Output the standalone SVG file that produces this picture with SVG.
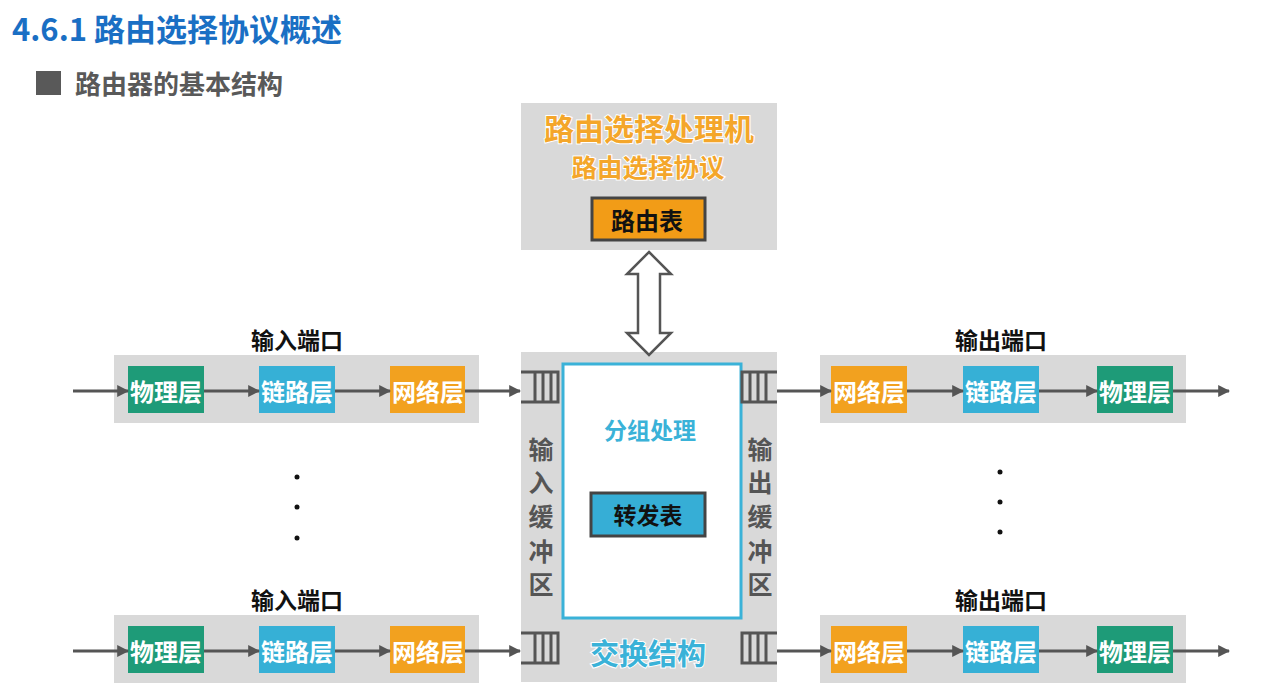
<svg xmlns="http://www.w3.org/2000/svg" width="1271" height="692" viewBox="0 0 1271 692">
<defs>
<style>
text{font-family:"Noto Sans CJK SC","Noto Sans",sans-serif;font-weight:700}
.panel{fill:#d9d9d9}
.phy{fill:#1e9b78}
.lnk{fill:#36b0d6}
.net{fill:#f2a11f}
.lt{fill:#fff;font-size:24px;text-anchor:middle;dominant-baseline:central}
.port{fill:#111;font-size:23px;text-anchor:middle;dominant-baseline:central}
.conn{stroke:#555;stroke-width:3;fill:none;marker-end:url(#ah)}
.buf{stroke:#555;stroke-width:3;fill:none}
.vt{fill:#555;font-size:25px;text-anchor:middle;dominant-baseline:central}
.dot{fill:#111}
.glowo{fill:#f4a62a;stroke:#fff;stroke-width:2;paint-order:stroke;text-anchor:middle}
.glowb{fill:#3ab2d8;stroke:#fff;stroke-width:2;paint-order:stroke;text-anchor:middle}
</style>
<marker id="ah" viewBox="0 0 10 10" refX="9" refY="5" markerWidth="4" markerHeight="4" orient="auto" markerUnits="strokeWidth">
<path d="M0,0 L10,5 L0,10 z" fill="#555"/>
</marker>
</defs>
<rect width="1271" height="692" fill="#fff"/>

<g id="title">
<text x="12" y="41" font-size="31" fill="#1a6fc4">4.6.1 路由选择协议概述</text>
<rect x="36" y="71" width="25" height="24" fill="#595959"/>
<text x="75" y="94" font-size="26" fill="#595959">路由器的基本结构</text>
</g>

<g id="routing-processor">
<rect class="panel" x="521" y="103" width="256" height="147"/>
<text class="glowo" x="649" y="140" font-size="30">路由选择处理机</text>
<text class="glowo" x="648" y="177" font-size="25.5">路由选择协议</text>
<rect x="592" y="198" width="113" height="42" fill="#f29c17" stroke="#444" stroke-width="3"/>
<text x="647" y="219" font-size="24" fill="#111" text-anchor="middle" dominant-baseline="central">路由表</text>
</g>

<g id="switch-fabric">
<rect class="panel" x="521" y="352" width="256" height="330"/>
<rect x="563" y="364" width="178" height="254" fill="#fff" stroke="#3ab2d8" stroke-width="3"/>
<text class="glowb" x="650" y="439" font-size="23">分组处理</text>
<rect x="591" y="493" width="114" height="43" fill="#36aed6" stroke="#444" stroke-width="3"/>
<text x="648" y="514" font-size="23" fill="#111" text-anchor="middle" dominant-baseline="central">转发表</text>
<text class="glowb" x="648" y="665" font-size="29">交换结构</text>
<text class="vt" x="541" y="448">输</text>
<text class="vt" x="541" y="481">入</text>
<text class="vt" x="541" y="515">缓</text>
<text class="vt" x="541" y="550">冲</text>
<text class="vt" x="541" y="583">区</text>
<text class="vt" x="760" y="448">输</text>
<text class="vt" x="760" y="481">出</text>
<text class="vt" x="760" y="515">缓</text>
<text class="vt" x="760" y="550">冲</text>
<text class="vt" x="760" y="583">区</text>
<path class="buf" d="M521,372 H558 V402 H521 M535,372 V402 M543,372 V402 M551,372 V402"/>
<path class="buf" d="M521,633 H558 V663 H521 M535,633 V663 M543,633 V663 M551,633 V663"/>
<path class="buf" d="M777,372 H742 V402 H777 M750,372 V402 M758,372 V402 M766,372 V402"/>
<path class="buf" d="M777,633 H742 V663 H777 M750,633 V663 M758,633 V663 M766,633 V663"/>
</g>

<g id="input-port-1">
<text class="port" x="297" y="339">输入端口</text>
<rect class="panel" x="114" y="355" width="365" height="68"/>
<rect class="phy" x="128" y="366" width="76" height="47"/>
<text class="lt" x="166" y="390">物理层</text>
<rect class="lnk" x="259" y="366" width="76" height="47"/>
<text class="lt" x="297" y="390">链路层</text>
<rect class="net" x="390" y="366" width="75" height="47"/>
<text class="lt" x="428" y="390">网络层</text>
</g>

<g id="input-port-2">
<text class="port" x="297" y="599">输入端口</text>
<rect class="panel" x="114" y="615" width="365" height="68"/>
<rect class="phy" x="128" y="626" width="76" height="47"/>
<text class="lt" x="166" y="650">物理层</text>
<rect class="lnk" x="259" y="626" width="76" height="47"/>
<text class="lt" x="297" y="650">链路层</text>
<rect class="net" x="390" y="626" width="75" height="47"/>
<text class="lt" x="428" y="650">网络层</text>
</g>

<g id="output-port-1">
<text class="port" x="1001" y="339">输出端口</text>
<rect class="panel" x="820" y="355" width="366" height="68"/>
<rect class="net" x="831" y="366" width="76" height="47"/>
<text class="lt" x="869" y="390">网络层</text>
<rect class="lnk" x="963" y="366" width="76" height="47"/>
<text class="lt" x="1001" y="390">链路层</text>
<rect class="phy" x="1097" y="366" width="76" height="47"/>
<text class="lt" x="1135" y="390">物理层</text>
</g>

<g id="output-port-2">
<text class="port" x="1001" y="599">输出端口</text>
<rect class="panel" x="820" y="615" width="366" height="68"/>
<rect class="net" x="831" y="626" width="76" height="47"/>
<text class="lt" x="869" y="650">网络层</text>
<rect class="lnk" x="963" y="626" width="76" height="47"/>
<text class="lt" x="1001" y="650">链路层</text>
<rect class="phy" x="1097" y="626" width="76" height="47"/>
<text class="lt" x="1135" y="650">物理层</text>
</g>

<g id="ellipsis">
<circle class="dot" cx="297" cy="477" r="2.5"/>
<circle class="dot" cx="297" cy="507" r="2.5"/>
<circle class="dot" cx="297" cy="538" r="2.5"/>
<circle class="dot" cx="1000" cy="472" r="2.5"/>
<circle class="dot" cx="1000" cy="502" r="2.5"/>
<circle class="dot" cx="1000" cy="532" r="2.5"/>
</g>

<g id="connectors">
<path d="M649,252 L671,274 L660,274 L660,333 L671,333 L649,355 L627,333 L638,333 L638,274 L627,274 Z" fill="#fff" stroke="#555" stroke-width="2.5" stroke-linejoin="miter"/>
<line class="conn" x1="73" y1="391" x2="128" y2="391"/>
<line class="conn" x1="204" y1="391" x2="259" y2="391"/>
<line class="conn" x1="335" y1="391" x2="390" y2="391"/>
<line class="conn" x1="465" y1="391" x2="520" y2="391"/>
<line class="conn" x1="73" y1="651" x2="128" y2="651"/>
<line class="conn" x1="204" y1="651" x2="259" y2="651"/>
<line class="conn" x1="335" y1="651" x2="390" y2="651"/>
<line class="conn" x1="465" y1="651" x2="520" y2="651"/>
<line class="conn" x1="777" y1="391" x2="831" y2="391"/>
<line class="conn" x1="907" y1="391" x2="963" y2="391"/>
<line class="conn" x1="1039" y1="391" x2="1097" y2="391"/>
<line class="conn" x1="1173" y1="391" x2="1229" y2="391"/>
<line class="conn" x1="777" y1="651" x2="831" y2="651"/>
<line class="conn" x1="907" y1="651" x2="963" y2="651"/>
<line class="conn" x1="1039" y1="651" x2="1097" y2="651"/>
<line class="conn" x1="1173" y1="651" x2="1229" y2="651"/>
</g>
</svg>
